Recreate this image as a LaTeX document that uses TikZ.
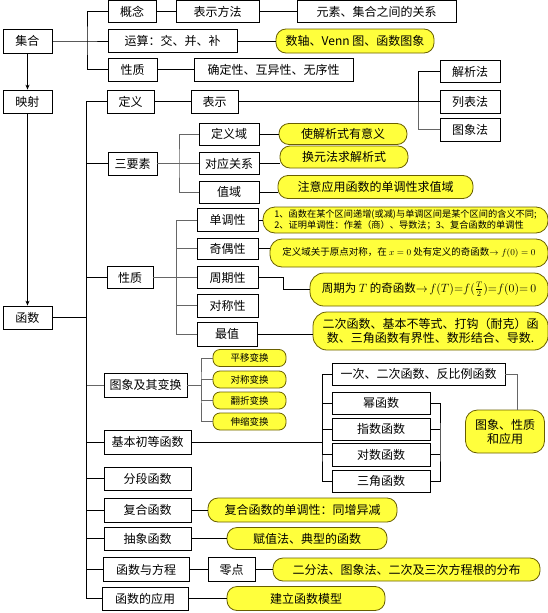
\documentclass[tikz,border=0pt]{standalone}
\usepackage{fontspec}
\setmainfont{Noto Sans CJK SC}
\usetikzlibrary{arrows.meta}
\definecolor{notefill}{RGB}{255,255,60}
\definecolor{noteline}{RGB}{105,95,0}

\begin{document}
\begin{tikzpicture}[
  x=1pt, y=-1pt,
  font=\fontsize{12}{14}\selectfont,
  box/.style={draw, line width=0.8pt, minimum height=23pt, inner sep=1pt, align=center},
  note/.style={draw=noteline, fill=notefill, line width=0.8pt, rounded corners=10pt, minimum height=23pt, inner sep=2pt, align=center},
  tag/.style={note, rounded corners=7pt, minimum height=17pt, minimum width=73pt, font=\fontsize{9.5}{10}\selectfont},
  link/.style={line width=0.8pt},
  glink/.style={line width=0.8pt, black!60},
  >={Stealth[length=5pt,width=4pt]},
]
  \useasboundingbox (0,0) rectangle (548,613);

  \node[box, minimum width=49pt, minimum height=24pt] (jihe) at (27.5,41) {集合};
  \node[box, minimum width=48pt, minimum height=22pt] (gainian) at (132,11.5) {概念};
  \node[box, minimum width=83pt, minimum height=22pt] (fangfa) at (217.5,11.5) {表示方法};
  \node[box, minimum width=159pt, minimum height=22pt] (guanxi) at (376.5,11.5) {元素、集合之间的关系};
  \node[box, minimum width=129pt] (yunsuan) at (172.5,41) {运算：交、并、补};
  \node[note, minimum width=158pt, minimum height=24pt] (venn) at (355,41) {数轴、Venn 图、函数图象};
  \node[box, minimum width=49pt] (jxz) at (132.5,69.5) {性质};
  \node[box, minimum width=159pt] (tezheng) at (273.5,69.5) {确定性、互异性、无序性};
  \node[box, minimum width=49pt] (yingshe) at (27.5,101.5) {映射};
  \node[box, minimum width=49pt] (hanshu) at (27.5,317.5) {函数};

  \node[box, minimum width=47pt] (dingyi) at (130.5,101.5) {定义};
  \node[box, minimum width=47pt] (biaoshi) at (214.5,101.5) {表示};
  \node[box, minimum width=60pt, minimum height=22pt] (jiexi) at (470,71.5) {解析法};
  \node[box, minimum width=60pt] (liebiao) at (470,101.5) {列表法};
  \node[box, minimum width=60pt] (tufa) at (470,129.5) {图象法};

  \node[box, minimum width=49pt] (sanyaosu) at (132.5,163.5) {三要素};
  \node[box, minimum width=60pt, minimum height=22pt] (dingyiyu) at (229,134) {定义域};
  \node[box, minimum width=60pt, minimum height=22pt] (duiying) at (229,163.5) {对应关系};
  \node[box, minimum width=60pt, minimum height=22pt] (zhiyu) at (229,192) {值域};
  \node[note, minimum width=128pt, minimum height=21pt] (youyi) at (343,134) {使解析式有意义};
  \node[note, minimum width=128pt, minimum height=22pt] (huanyuan) at (344,157) {换元法求解析式};
  \node[note, minimum width=195pt] (qiuzhi) at (375.5,187) {注意应用函数的单调性求值域};

  \node[box, minimum width=46pt, minimum height=22pt] (xingzhi) at (130,277.5) {性质};
  \node[box, minimum width=61pt] (dandiao) at (227.5,220) {单调性};
  \node[box, minimum width=61pt, minimum height=21pt] (jiou) at (227.5,248.5) {奇偶性};
  \node[box, minimum width=61pt, minimum height=22pt] (zhouqi) at (227.5,277.5) {周期性};
  \node[box, minimum width=61pt] (duichen) at (227.5,305.5) {对称性};
  \node[box, minimum width=60pt, minimum height=24pt] (zuizhi) at (227,334) {最值};
  \node[note, minimum width=285pt, minimum height=26pt, rounded corners=12pt, align=left,
    font=\fontsize{9.2}{11}\selectfont] (ddnote) at (405.5,220)
    {1、函数在某个区间递增(或减)与单调区间是某个区间的含义不同;\\2、证明单调性：作差（商）、导数法；3、复合函数的单调性};
  \node[note, minimum width=278pt, minimum height=28pt, rounded corners=12pt,
    font=\fontsize{9.5}{11}\selectfont] (jonote) at (409,253)
    {定义域关于原点对称，在 $x=0$ 处有定义的奇函数$\to f(0)=0$};
  \node[note, minimum width=238pt, minimum height=33pt, rounded corners=14pt,
    font=\fontsize{11.5}{13}\selectfont] (zqnote) at (429,289.5)
    {周期为 $T$ 的奇函数$\to\! f(T){=}f(\frac{T}{2}){=}f(0){=}\,0$};
  \node[note, minimum width=235pt, minimum height=38pt, rounded corners=14pt] (zznote) at (430.5,331)
    {二次函数、基本不等式、打钩（耐克）函\\数、三角函数有界性、数形结合、导数.};

  \node[box, minimum width=83pt, minimum height=24pt] (bianhuan) at (145.5,385) {图象及其变换};
  \node[tag] (pingyi) at (249.5,358) {平移变换};
  \node[tag] (duichenbh) at (249.5,379.5) {对称变换};
  \node[tag] (fanzhe) at (249.5,400.5) {翻折变换};
  \node[tag] (shensuo) at (249.5,421.5) {伸缩变换};

  \node[box, minimum width=87pt, minimum height=24pt] (jiben) at (147.5,442) {基本初等函数};
  \node[box, minimum width=173pt, minimum height=22pt] (yici) at (418.5,374) {一次、二次函数、反比例函数};
  \node[box, minimum width=98pt, minimum height=22pt] (mi) at (381,403) {幂函数};
  \node[box, minimum width=98pt, minimum height=22pt] (zhishu) at (381,429) {指数函数};
  \node[box, minimum width=98pt] (duishu) at (381,454.5) {对数函数};
  \node[box, minimum width=98pt, minimum height=22pt] (sanjiao) at (381,481) {三角函数};
  \node[note, minimum width=79pt, minimum height=43pt, rounded corners=12pt] (yingyong1) at (505,431.5) {图象、性质\\和应用};

  \node[box, minimum width=87pt] (fenduan) at (147.5,478.5) {分段函数};
  \node[box, minimum width=87pt, minimum height=24pt] (fuhe) at (147.5,510) {复合函数};
  \node[note, minimum width=189pt, minimum height=24pt] (fhnote) at (302.5,510) {复合函数的单调性：同增异减};
  \node[box, minimum width=87pt] (chouxiang) at (147.5,538.5) {抽象函数};
  \node[note, minimum width=160pt, minimum height=22pt] (cxnote) at (307,538.5) {赋值法、典型的函数};
  \node[box, minimum width=86pt, minimum height=24pt] (fangcheng) at (146,569.5) {函数与方程};
  \node[box, minimum width=47pt, minimum height=24pt] (lingdian) at (231.5,569.5) {零点};
  \node[note, minimum width=267pt] (ldnote) at (406.5,569.5) {二分法、图象法、二次及三次方程根的分布};
  \node[box, minimum width=86pt] (yingyong) at (145,598.5) {函数的应用};
  \node[note, minimum width=158pt, minimum height=24pt] (jlnote) at (306,598.5) {建立函数模型};

  \coordinate (jbus) at (87,41);
  \draw[link] (jihe) -- (jbus) -- (yunsuan);
  \draw[link] (gainian) -| (jbus) |- (jxz);
  \draw[link] (gainian) -- (fangfa) -- (guanxi);
  \draw[link] (yunsuan) -- (venn);
  \draw[link] (jxz) -- (tezheng);
  \draw[link,->] (jihe) -- (yingshe);
  \draw[link,->] (yingshe) -- (hanshu);

  \coordinate (fbus) at (86,317.5);
  \draw[link] (hanshu) -- (fbus);
  \draw[link] (dingyi) -| (fbus) |- (yingyong);
  \draw[link] (fbus) |- (sanyaosu);
  \draw[link] (fbus) |- (xingzhi);
  \draw[glink] (fbus) |- (bianhuan);
  \draw[link] (fbus) |- (jiben);
  \draw[link] (fbus) |- (fenduan);
  \draw[link] (fbus) |- (fuhe);
  \draw[link] (fbus) |- (chouxiang);
  \draw[link] (fbus) |- (fangcheng);

  \coordinate (bbus) at (418,101.5);
  \draw[link] (dingyi) -- (biaoshi) -- (liebiao);
  \draw[link] (jiexi) -| (bbus);
  \draw[glink] (bbus) |- (tufa);

  \coordinate (sbus) at (179,163.5);
  \draw[glink] (sanyaosu) -- (duiying);
  \draw[glink] (dingyiyu) -| (sbus) |- (zhiyu);
  \draw[link] (dingyiyu) -- (youyi);
  \draw[link] (duiying) -- (duiying -| huanyuan.west);
  \draw[link] (zhiyu) -- (zhiyu -| qiuzhi.west);

  \coordinate (xbus) at (176,277.5);
  \draw[glink] (xingzhi) -- (zhouqi);
  \draw[glink] (dandiao) -| (xbus) |- (zuizhi);
  \draw[glink] (xbus) |- (jiou);
  \draw[glink] (xbus) |- (duichen);
  \draw[link] (dandiao) -- (ddnote);
  \draw[link] (jiou) -- (jiou -| jonote.west);
  \draw[link] (zhouqi.east) -- ++(25,0) |- (zqnote);
  \draw[link] (zuizhi) -- (zuizhi -| zznote.west);

  \coordinate (tbus) at (201,385);
  \draw[glink] (bianhuan) -- (tbus);
  \draw[glink] (pingyi) -| (tbus) |- (shensuo);
  \draw[glink] (tbus) |- (duichenbh);
  \draw[glink] (tbus) |- (fanzhe);

  \coordinate (ebus) at (322,442);
  \draw[link] (jiben) -- (ebus);
  \draw[link] (yici) -| (ebus) |- (sanjiao);
  \draw[link] (ebus) |- (mi);
  \draw[link] (ebus) |- (zhishu);
  \draw[link] (ebus) |- (duishu);
  \coordinate (rbus) at (440,442);
  \draw[link] (mi) -| (rbus) |- (sanjiao);
  \draw[link] (zhishu) -- (zhishu -| rbus);
  \draw[link] (duishu) -- (duishu -| rbus);
  \draw[glink] (yici) -| ([xshift=12pt]yingyong1.north);

  \draw[link] (fuhe) -- (fhnote);
  \draw[link] (chouxiang) -- (cxnote);
  \draw[link] (fangcheng) -- (lingdian) -- (ldnote);
  \draw[link] (yingyong) -- (jlnote);
\end{tikzpicture}
\end{document}
